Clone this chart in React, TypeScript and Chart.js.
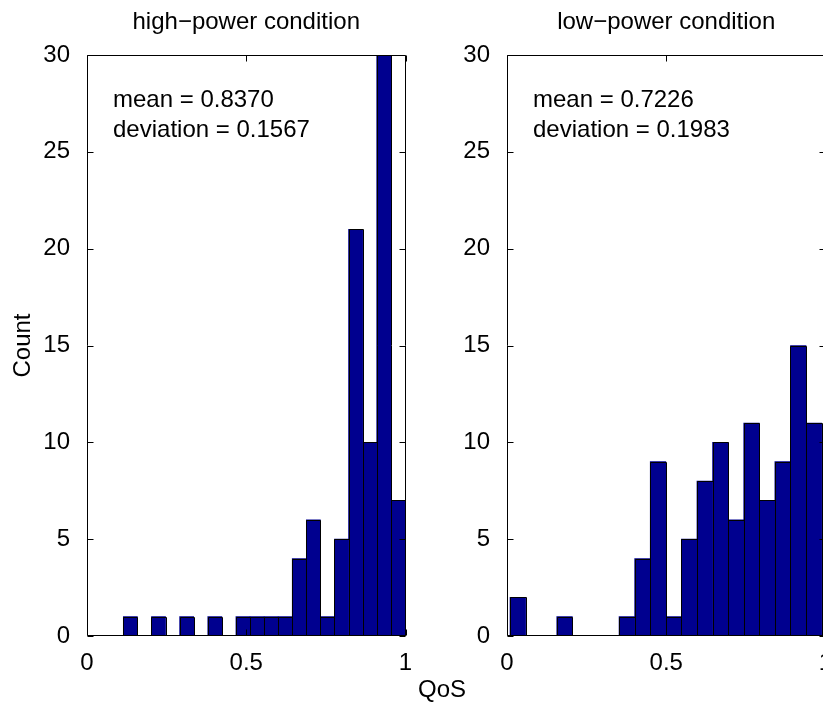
import React, { useEffect, useRef } from "react";
import { Chart, registerables } from "chart.js";

Chart.register(...registerables);

// ---------- data ----------
const highBinCenters = [
  0.1361, 0.1803, 0.2245, 0.2687, 0.3129, 0.3571, 0.4013, 0.4455, 0.4897, 0.5339,
  0.5781, 0.6223, 0.6665, 0.7107, 0.7549, 0.7991, 0.8433, 0.8875, 0.9317, 0.9759,
];
const highCounts = [1, 0, 1, 0, 1, 0, 1, 0, 1, 1, 1, 1, 4, 6, 1, 5, 21, 10, 30, 7];

const lowBinCenters = [
  0.0339, 0.0828, 0.1317, 0.1807, 0.2296, 0.2785, 0.3274, 0.3763, 0.4253, 0.4742,
  0.5231, 0.572, 0.6209, 0.6699, 0.7188, 0.7677, 0.8166, 0.8655, 0.9145, 0.9634,
];
const lowCounts = [2, 0, 0, 1, 0, 0, 0, 1, 4, 9, 1, 5, 8, 10, 6, 11, 7, 9, 15, 11];

const xTickValues = [0, 0.5, 1];
const yTickValues = [0, 5, 10, 15, 20, 25, 30];

const highTitle = "high\u2212power condition";
const lowTitle = "low\u2212power condition";
const highStats = ["mean = 0.8370", "deviation = 0.1567"];
const lowStats = ["mean = 0.7226", "deviation = 0.1983"];
const yAxisLabel = "Count";
const xAxisLabel = "QoS";

// ---------- styling ----------
const FONT_FAMILY = "'Liberation Sans', Arial, Helvetica, sans-serif";
const FONT_SIZE = 24;
const BAR_FILL = "#00008F";
const CANVAS_W = 440;
const CANVAS_H = 704;

type PanelOpts = {
  title: string;
  stats: string[];
  showYLabel: boolean;
};

const framePlugin = {
  id: "matlabFrame",
  afterDatasetsDraw(chart: any, _args: any, opts: PanelOpts) {
    const { ctx, chartArea } = chart;
    const { left, right, top, bottom } = chartArea;
    const xs = chart.scales.x;
    const ys = chart.scales.y;
    ctx.save();
    ctx.strokeStyle = "#000";
    ctx.lineWidth = 1;

    // crisp 1px outlines around the bars the library laid out
    const meta = chart.getDatasetMeta(0);
    ctx.beginPath();
    meta.data.forEach((el: any) => {
      const { x, y, base, width } = el.getProps(["x", "y", "base", "width"], true);
      if (Math.abs(base - y) < 0.5) return;
      const x0 = Math.round(x - width / 2) + 0.5;
      const x1 = Math.round(x + width / 2) + 0.5;
      const y0 = Math.round(y) + 0.5;
      const yb = Math.round(base) - 0.5;
      ctx.rect(x0, y0, x1 - x0, yb - y0);
    });
    ctx.stroke();

    ctx.beginPath();
    const L = Math.round(left) + 0.5;
    const R = Math.round(right) - 0.5;
    const T = Math.round(top) + 0.5;
    const B = Math.round(bottom) - 0.5;
    ctx.rect(L, T, R - L, B - T);
    const tl = 6;
    yTickValues.forEach((v) => {
      const y = Math.round(ys.getPixelForValue(v)) + 0.5;
      ctx.moveTo(L, y);
      ctx.lineTo(L + tl, y);
      ctx.moveTo(R, y);
      ctx.lineTo(R - tl, y);
    });
    xTickValues.forEach((v) => {
      const x = Math.round(xs.getPixelForValue(v)) + 0.5;
      ctx.moveTo(x, B);
      ctx.lineTo(x, B - tl);
      ctx.moveTo(x, T);
      ctx.lineTo(x, T + tl);
    });
    ctx.stroke();

    ctx.fillStyle = "#000";
    ctx.font = `${FONT_SIZE}px ${FONT_FAMILY}`;
    ctx.textBaseline = "middle";
    ctx.textAlign = "center";
    ctx.fillText(opts.title, (left + right) / 2, 22);

    ctx.textAlign = "left";
    opts.stats.forEach((s, i) => {
      ctx.fillText(s, left + 26, 100 + i * 30);
    });

    if (opts.showYLabel) {
      ctx.save();
      ctx.translate(23, (top + bottom) / 2);
      ctx.rotate(-Math.PI / 2);
      ctx.textAlign = "center";
      ctx.textBaseline = "middle";
      ctx.fillText(yAxisLabel, 0, 0);
      ctx.restore();
    }
    ctx.restore();
  },
};

function makeConfig(centers: number[], counts: number[], panel: PanelOpts): any {
  const font = { family: FONT_FAMILY, size: FONT_SIZE };
  return {
    type: "bar",
    data: {
      datasets: [
        {
          data: centers.map((x, i) => ({ x, y: counts[i] })),
          backgroundColor: BAR_FILL,
          borderWidth: 0,
          barPercentage: 1,
          categoryPercentage: 1,
        },
      ],
    },
    options: {
      animation: false,
      responsive: false,
      maintainAspectRatio: false,
      devicePixelRatio: 1,
      layout: { padding: { top: 55, right: 34.5, bottom: 0, left: 0 } },
      plugins: {
        legend: { display: false },
        tooltip: { enabled: false },
        title: { display: false },
        matlabFrame: panel,
      },
      scales: {
        x: {
          type: "linear",
          min: 0,
          max: 1,
          offset: false,
          grid: { display: false },
          border: { display: false },
          ticks: {
            color: "#000",
            font,
            padding: 5,
            maxRotation: 0,
            autoSkip: false,
            callback: (v: number) => String(v),
          },
          afterBuildTicks: (s: any) => {
            s.ticks = xTickValues.map((v) => ({ value: v }));
          },
          afterFit: (s: any) => {
            s.height = 68;
          },
        },
        y: {
          min: 0,
          max: 30,
          grid: { display: false },
          border: { display: false },
          ticks: {
            color: "#000",
            font,
            padding: 9,
            autoSkip: false,
          },
          afterBuildTicks: (s: any) => {
            s.ticks = yTickValues.map((v) => ({ value: v }));
          },
          afterFit: (s: any) => {
            s.width = 87;
          },
        },
      },
    },
    plugins: [framePlugin],
  };
}

function Panel({ centers, counts, panel, left }: { centers: number[]; counts: number[]; panel: PanelOpts; left: number }) {
  const ref = useRef<HTMLCanvasElement | null>(null);
  useEffect(() => {
    if (!ref.current) return;
    const chart = new Chart(ref.current, makeConfig(centers, counts, panel));
    return () => chart.destroy();
  }, []);
  return (
    <canvas
      ref={ref}
      width={CANVAS_W}
      height={CANVAS_H}
      style={{ position: "absolute", left, top: 0, width: CANVAS_W, height: CANVAS_H }}
    />
  );
}

export default function App() {
  return (
    <div
      style={{
        position: "fixed",
        left: 0,
        top: 0,
        width: 823,
        height: 704,
        overflow: "hidden",
        background: "#fff",
      }}
    >
      <Panel centers={highBinCenters} counts={highCounts} left={0} panel={{ title: highTitle, stats: highStats, showYLabel: true }} />
      <Panel centers={lowBinCenters} counts={lowCounts} left={420} panel={{ title: lowTitle, stats: lowStats, showYLabel: false }} />
      <div
        style={{
          position: "absolute",
          left: 392,
          width: 100,
          top: 676,
          height: 26,
          lineHeight: "26px",
          textAlign: "center",
          fontFamily: FONT_FAMILY,
          fontSize: FONT_SIZE,
          color: "#000",
        }}
      >
        {xAxisLabel}
      </div>
    </div>
  );
}
